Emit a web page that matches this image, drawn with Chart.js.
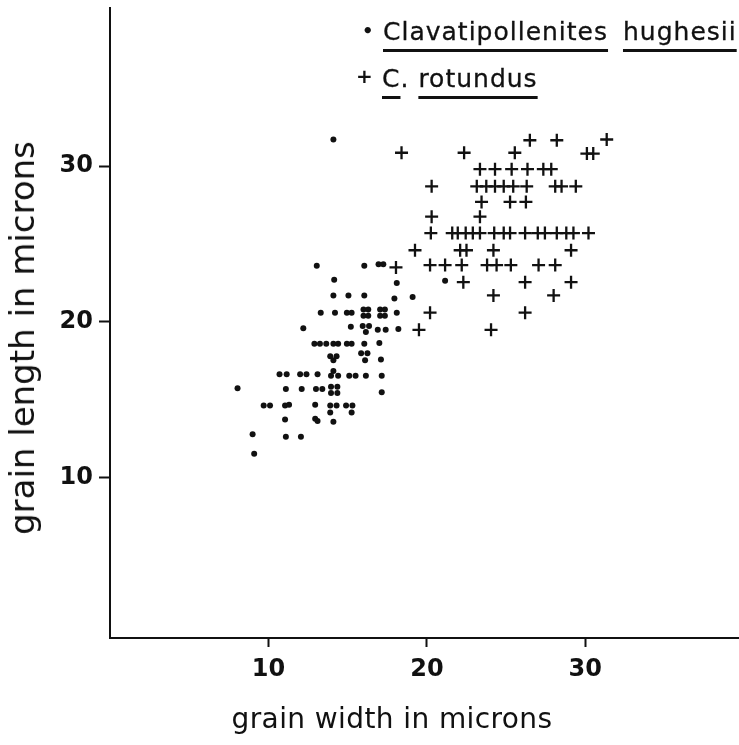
<!DOCTYPE html>
<html>
<head>
<meta charset="utf-8">
<script src="https://cdn.jsdelivr.net/npm/chart.js@4.4.1/dist/chart.umd.min.js"></script>
<style>
    body { margin: 0; background: #fff; }
    #wrap { position: relative; width: 739px; height: 745px; overflow: hidden; }
    .key { position: absolute; font-family: "DejaVu Sans", sans-serif; font-size: 25px; line-height: 25px;
           letter-spacing: 1px; color: #111; white-space: nowrap; -webkit-text-stroke: 0.3px #111; }
    .key u { text-decoration-thickness: 2.5px; text-underline-offset: 9px; }
    .mark { position: absolute; font-family: "DejaVu Sans", sans-serif; font-weight: bold; color: #111; line-height: 20px; }
    .axis-title { position: absolute; font-family: "DejaVu Sans", sans-serif; color: #111; white-space: nowrap;
                  transform-origin: center center; }
</style>
</head>
<body>
<div id="wrap">
    <canvas id="grain-chart" width="739" height="745"></canvas>
    <span class="mark" style="left:362px; top:21px; font-size:18px;">•</span>
    <div class="key" style="left:383px; top:19px; word-spacing:6px;"><u>Clavatipollenites</u> <u>hughesii</u></div>
    <span class="mark" style="left:356px; top:66px; font-size:20px;">+</span>
    <div class="key" style="left:382px; top:66px;"><u>C</u>. <u>rotundus</u></div>
    <div class="axis-title" style="left:392px; top:719px; font-size:28px; line-height:34px; letter-spacing:0.4px;
         transform: translate(-50%, -50%);">grain width in microns</div>
    <div class="axis-title" style="left:22px; top:338px; font-size:34px; line-height:40px;
         transform: translate(-50%, -50%) rotate(-90deg);">grain length in microns</div>
</div>
<script>
// GRAIN SIZE DATA //

// Clavatipollenites hughesii (dots)
const hughesiiWidth = [
    14.1,
    13.05, 16.05, 16.95, 17.25,
    14.15, 18.1, 21.15,
    14.1, 15.05, 16.05, 17.95, 19.1,
    13.3, 14.2, 14.95, 15.25, 16.0, 16.3, 16.0, 16.3, 17.05, 17.35, 17.05, 17.35, 18.1,
    12.2, 15.2, 15.95, 16.35, 16.15, 16.9, 17.4, 18.2,
    12.9, 13.25, 13.65, 14.1, 14.4, 14.95, 15.25, 16.05, 17.0,
    13.9, 14.3, 14.1, 15.85, 16.25, 16.1, 17.1,
    10.7, 11.15, 12.0, 12.4, 13.1, 13.95, 14.1, 14.4, 15.1, 15.5, 16.15, 17.15,
    8.05, 11.1, 12.1, 13.0, 13.4, 13.95, 14.35, 13.95, 14.35, 17.15,
    9.7, 10.1, 11.05, 11.3, 12.95, 13.9, 14.3, 14.9, 15.3, 13.9, 15.25,
    11.05, 12.95, 13.1, 14.1,
    9.0, 11.1, 12.05,
    9.1
];
const hughesiiLength = [
    31.7,
    23.6, 23.6, 23.7, 23.7,
    22.7, 22.5, 22.65,
    21.7, 21.7, 21.7, 21.5, 21.6,
    20.6, 20.6, 20.6, 20.6, 20.8, 20.8, 20.4, 20.4, 20.8, 20.8, 20.4, 20.4, 20.6,
    19.6, 19.7, 19.75, 19.75, 19.35, 19.5, 19.5, 19.55,
    18.6, 18.6, 18.6, 18.6, 18.6, 18.6, 18.6, 18.6, 18.65,
    17.8, 17.8, 17.55, 18.0, 18.0, 17.55, 17.6,
    16.65, 16.65, 16.65, 16.65, 16.65, 16.55, 16.85, 16.55, 16.55, 16.55, 16.55, 16.55,
    15.75, 15.7, 15.7, 15.7, 15.7, 15.85, 15.85, 15.45, 15.45, 15.5,
    14.65, 14.65, 14.65, 14.7, 14.7, 14.65, 14.65, 14.65, 14.65, 14.2, 14.2,
    13.75, 13.8, 13.65, 13.6,
    12.8, 12.65, 12.65,
    11.55
];

// C. rotundus (crosses)
const rotundusWidth = [
    26.5, 28.2, 31.35,
    18.4, 22.35, 25.55, 30.1, 30.5,
    23.35, 24.3, 25.35, 26.35, 27.35, 27.85,
    20.3, 23.15, 23.75, 24.3, 24.85, 25.45, 26.3, 28.1, 28.5, 29.4,
    23.45, 25.25, 26.25,
    20.3, 23.35,
    20.25, 21.6, 21.95, 22.45, 22.9, 23.35, 24.25, 24.85, 25.25, 26.2, 27.0, 27.45, 28.2, 28.8, 29.25, 30.2,
    19.25, 22.1, 22.5, 24.2, 29.1,
    18.05, 20.2, 21.15, 22.2, 23.8, 24.4, 25.3, 27.05, 28.1,
    22.3, 26.2, 29.1,
    24.2, 28.0,
    20.2, 26.2,
    19.5, 24.05
];
const rotundusLength = [
    31.65, 31.65, 31.7,
    30.85, 30.85, 30.85, 30.8, 30.8,
    29.8, 29.8, 29.8, 29.8, 29.8, 29.8,
    28.7, 28.7, 28.7, 28.7, 28.7, 28.7, 28.7, 28.7, 28.7, 28.7,
    27.7, 27.7, 27.7,
    26.75, 26.75,
    25.7, 25.7, 25.7, 25.7, 25.7, 25.7, 25.7, 25.7, 25.7, 25.7, 25.7, 25.7, 25.7, 25.7, 25.7, 25.7,
    24.6, 24.6, 24.6, 24.6, 24.6,
    23.5, 23.65, 23.65, 23.65, 23.65, 23.65, 23.65, 23.65, 23.65,
    22.55, 22.55, 22.55,
    21.7, 21.7,
    20.6, 20.6,
    19.5, 19.5
];

const tickValues = [10, 20, 30];
const xRange = [0, 39.7];
const yRange = [-0.26, 40.13];

const ink = '#111';
const fontFamily = '"DejaVu Sans", sans-serif';

function toPoints(xs, ys) {
    return xs.map((x, i) => ({ x: x, y: ys[i] }));
}

// SCATTER CHART //

const grainCanvas = document.getElementById('grain-chart');

const grainData = {
    datasets: [{
        label: 'Clavatipollenites hughesii',
        data: toPoints(hughesiiWidth, hughesiiLength),
        pointStyle: 'circle',
        pointRadius: 3,
        backgroundColor: ink,
        borderColor: ink,
        borderWidth: 0
    }, {
        label: 'C. rotundus',
        data: toPoints(rotundusWidth, rotundusLength),
        pointStyle: 'cross',
        pointRadius: 6.5,
        borderColor: ink,
        borderWidth: 2.3
    }]
};

const axisTicks = scale => { scale.ticks = tickValues.map(v => ({ value: v })); };

// no extra room for the end labels, the axes run to the edges
function noLabelPadding(scale) {
    scale.paddingTop = 0;
    scale.paddingBottom = 0;
    scale.paddingLeft = 0;
    scale.paddingRight = 0;
}

const grainOptions = {
    responsive: false,
    animation: false,
    layout: { autoPadding: false, padding: { top: 8, right: 0, bottom: 0, left: 0 } },
    plugins: {
        legend: { display: false },
        tooltip: { enabled: false }
    },
    scales: {
        x: {
            type: 'linear',
            min: xRange[0],
            max: xRange[1],
            afterBuildTicks: axisTicks,
            afterFit: scale => { scale.height = 107; noLabelPadding(scale); },
            grid: { drawOnChartArea: false, drawTicks: true, tickLength: 9, tickWidth: 2, tickColor: ink },
            border: { display: true, color: ink, width: 2 },
            ticks: { color: ink, padding: 8, maxRotation: 0, font: { family: fontFamily, size: 24, weight: 'bold' } }
        },
        y: {
            type: 'linear',
            min: yRange[0],
            max: yRange[1],
            afterBuildTicks: axisTicks,
            afterFit: scale => { scale.width = 110; noLabelPadding(scale); },
            grid: { drawOnChartArea: false, drawTicks: true, tickLength: 11, tickWidth: 2, tickColor: ink },
            border: { display: true, color: ink, width: 2 },
            ticks: { color: ink, padding: 6, font: { family: fontFamily, size: 24, weight: 'bold' } }
        }
    }
};

let grainChart = new Chart(grainCanvas, {
    type: 'scatter',
    data: grainData,
    options: grainOptions
});
</script>
</body>
</html>
